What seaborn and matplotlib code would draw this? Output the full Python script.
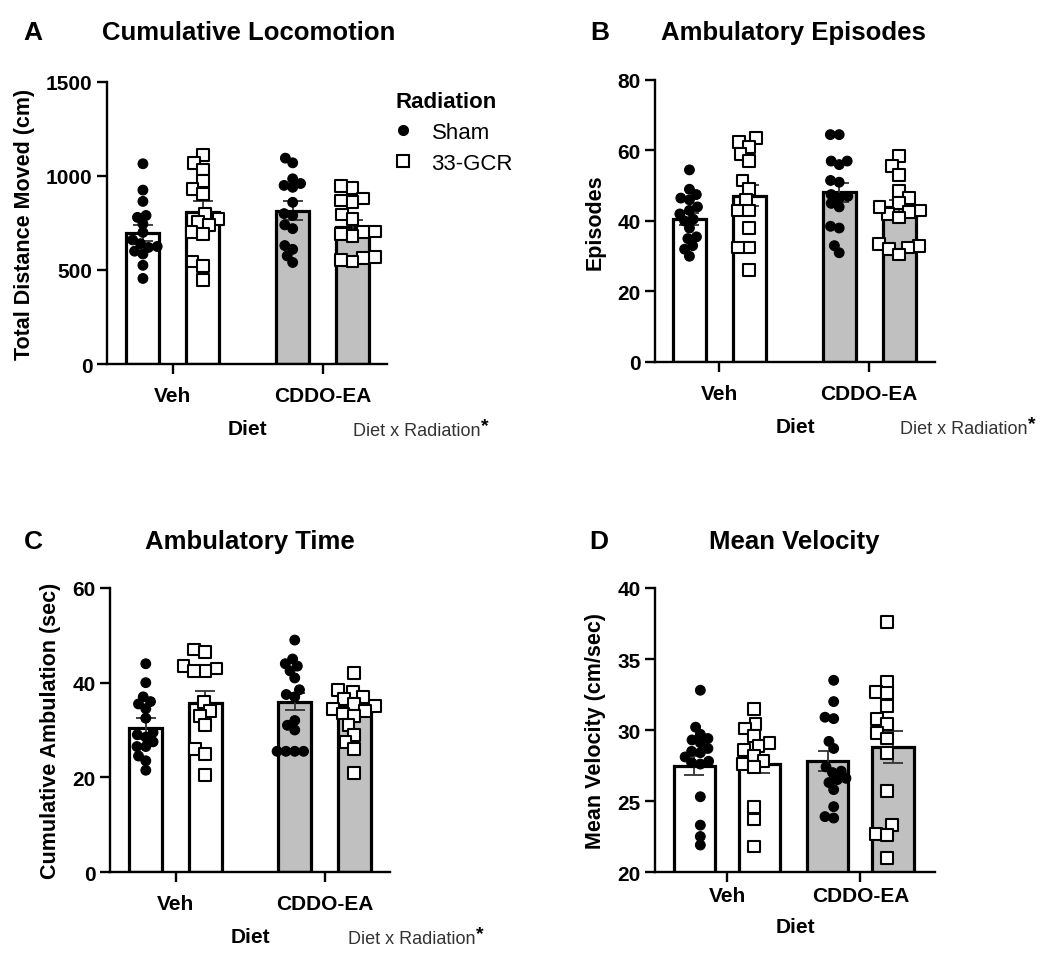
import numpy as np
import pandas as pd
import matplotlib
matplotlib.use("Agg")
import matplotlib.pyplot as plt
import seaborn as sb
from matplotlib.lines import Line2D

diets = ['Veh', 'CDDO-EA']
rads = ['Sham', '33-GCR']

# A - cumulative locomotion (cm)
loco_veh_sham = [1065, 925, 865, 790, 780, 745, 700, 660, 640, 625, 620, 600, 585, 525, 455]
loco_veh_gcr = [1110, 1070, 1035, 975, 930, 905, 800, 770, 755, 740, 700, 690, 545, 520, 445]
loco_cddo_sham = [1095, 1070, 985, 960, 950, 940, 860, 800, 790, 740, 720, 630, 610, 575, 540]
loco_cddo_gcr = [945, 935, 880, 870, 860, 795, 770, 705, 700, 690, 680, 570, 565, 555, 545]
loco_means = [697, 807, 815, 730]
loco_sem = [42, 62, 50, 35]

# B - ambulatory episodes
epi_veh_sham = [54.5, 49, 47.5, 46.5, 46, 44, 43, 40.5, 42, 40, 38, 35.5, 35, 33, 32, 30]
epi_veh_gcr = [63.5, 62.5, 61, 59, 57, 51.5, 49, 46, 43, 43, 38, 32.5, 32.5, 26]
epi_cddo_sham = [64.5, 64.5, 57, 57, 56, 51.5, 51, 47.5, 47, 46.5, 45, 44, 38.5, 38, 33, 31]
epi_cddo_gcr = [58.5, 55.5, 53, 48.5, 46.5, 45, 43, 42.5, 42, 41, 44, 33.5, 33, 32.5, 32, 30.5]
epi_means = [40.6, 47.2, 48.1, 43.9]
epi_sem = [1.8, 3.0, 2.6, 2.0]

# C - ambulatory time (sec)
amb_veh_sham = [44, 40, 37, 36, 35.5, 34.5, 32.5, 29.5, 29, 28.5, 27.5, 26.5, 26.5, 24.5, 23.5, 21.5]
amb_veh_gcr = [47, 46.5, 43.5, 43, 42.5, 42.5, 36, 34, 33, 31, 26, 25, 20.5]
amb_cddo_sham = [49, 45, 44, 43.5, 42.5, 41, 38.5, 37.5, 37, 32, 31, 30, 25.5, 25.5, 25.5, 25.5]
amb_cddo_gcr = [42, 38.5, 38, 37, 36.5, 35.5, 35, 34.5, 34, 33.5, 33, 31, 29, 27.5, 26, 21]
amb_means = [30.4, 35.6, 36.0, 34.8]
amb_sem = [2.2, 2.7, 1.8, 1.5]

# D - mean velocity (cm/sec)
vel_veh_sham = [32.8, 30.2, 29.7, 29.4, 29.3, 29.1, 28.7, 28.5, 28.4, 28.1, 27.8, 27.7, 27.6, 25.3, 23.3, 22.5, 21.9]
vel_veh_gcr = [31.5, 30.4, 30.1, 29.6, 29.1, 28.9, 28.6, 28.2, 27.8, 27.6, 27.4, 24.6, 23.7, 21.8]
vel_cddo_sham = [33.5, 32, 30.9, 30.8, 29.2, 28.7, 27.4, 27.1, 27, 26.6, 26.5, 26.3, 25.8, 24.6, 23.9, 23.8]
vel_cddo_gcr = [37.6, 33.4, 32.7, 32.6, 31.7, 30.8, 30.4, 29.8, 29.4, 28.4, 25.7, 23.3, 22.7, 22.6, 21.0]
vel_means = [27.5, 27.6, 27.8, 28.8]
vel_sem = [0.7, 0.6, 0.7, 1.1]

sb.set_style('ticks')
plt.rcParams['font.family'] = ['Liberation Sans', 'DejaVu Sans']
plt.rcParams['text.color'] = 'black'
plt.rcParams['axes.labelcolor'] = 'black'
plt.rcParams['xtick.color'] = 'black'
plt.rcParams['ytick.color'] = 'black'
plt.rcParams['axes.edgecolor'] = 'black'

keys = [(d, r) for d in diets for r in rads]

# marker sizes (points) shown, and the smaller size used to pack the swarm
marker_size = {'Sham': 7, '33-GCR': 8.5}
pack = 0.75
swarm_colls = []


def points_frame(groups):
    rows = []
    for (diet, rad), vals in zip(keys, groups):
        for v in vals:
            rows.append((diet, rad, v))
    return pd.DataFrame(rows, columns=['Diet', 'Radiation', 'value'])


def panel(ax, groups, means, sems, ylim, yticks, ylabel, xlim, width=0.8, gap=0.45,
          tickpad=9, labelpad=10):
    bars = pd.DataFrame({'Diet': [k[0] for k in keys], 'Radiation': [k[1] for k in keys], 'value': means})
    sb.barplot(data=bars, x='Diet', y='value', hue='Radiation', order=diets, hue_order=rads,
               palette=['white', 'white'], width=width, gap=gap, errorbar=None,
               edgecolor='black', linewidth=2.3, legend=False, ax=ax, zorder=2)
    centers = []
    for p in ax.patches:
        c = p.get_x() + p.get_width() / 2
        centers.append(c)
        if c > 0.5:
            p.set_facecolor('#c0c0c0')
    centers = sorted(centers)
    ax.errorbar(centers, means, yerr=sems, fmt='none', ecolor='#333333', elinewidth=1.3,
                capsize=7, capthick=1.3, zorder=3)

    pts = points_frame(groups)
    styles = {
        'Sham': dict(marker='o', linewidth=0.8, palette={'Sham': 'black', '33-GCR': 'black'}),
        '33-GCR': dict(marker='s', linewidth=1.5, palette={'Sham': 'white', '33-GCR': 'white'}),
    }
    for rad in rads:
        n0 = len(ax.collections)
        sb.swarmplot(data=pts[pts.Radiation == rad], x='Diet', y='value', hue='Radiation',
                     order=diets, hue_order=rads, dodge=True, edgecolor='black',
                     size=marker_size[rad] * pack, legend=False, ax=ax, zorder=4, **styles[rad])
        for coll in ax.collections[n0:]:
            swarm_colls.append((coll, marker_size[rad]))

    ax.set_xlim(xlim)
    ax.set_ylim(ylim)
    ax.set_yticks(yticks)
    sb.despine(ax=ax)
    for s in ['left', 'bottom']:
        ax.spines[s].set_linewidth(1.7)
    ax.tick_params(width=1.7, length=7, labelsize=15)
    ax.tick_params(axis='x', pad=tickpad)
    ax.set_xlabel('Diet', fontsize=15, fontweight='bold', labelpad=labelpad)
    ax.set_ylabel(ylabel, fontsize=15.5, fontweight='bold', labelpad=8)
    for lab in ax.get_xticklabels() + ax.get_yticklabels():
        lab.set_fontweight('bold')


fig = plt.figure(figsize=(10.5, 9.54), dpi=100)
axA = fig.add_axes([0.1019, 0.6174, 0.2667, 0.2956])
axB = fig.add_axes([0.6238, 0.6195, 0.2667, 0.2956])
axC = fig.add_axes([0.1048, 0.0849, 0.2667, 0.2977])
axD = fig.add_axes([0.6238, 0.0849, 0.2667, 0.2977])

panel(axA, [loco_veh_sham, loco_veh_gcr, loco_cddo_sham, loco_cddo_gcr], loco_means, loco_sem,
      (0, 1500), [0, 500, 1000, 1500], 'Total Distance Moved (cm)', (-0.44, 1.43))
panel(axB, [epi_veh_sham, epi_veh_gcr, epi_cddo_sham, epi_cddo_gcr], epi_means, epi_sem,
      (0, 80), [0, 20, 40, 60, 80], 'Episodes', (-0.43, 1.44))
panel(axC, [amb_veh_sham, amb_veh_gcr, amb_cddo_sham, amb_cddo_gcr], amb_means, amb_sem,
      (0, 60), [0, 20, 40, 60], 'Cumulative Ambulation (sec)', (-0.44, 1.44))
panel(axD, [vel_veh_sham, vel_veh_gcr, vel_cddo_sham, vel_cddo_gcr], vel_means, vel_sem,
      (20, 40), [20, 25, 30, 35, 40], 'Mean Velocity (cm/sec)', (-0.54, 1.56), width=0.98, gap=0.37,
      tickpad=3, labelpad=9)

# legend in panel A
handles = [
    Line2D([], [], marker='o', ls='', color='black', markersize=7),
    Line2D([], [], marker='s', ls='', markerfacecolor='white', markeredgecolor='black',
           markeredgewidth=1.5, markersize=8.5),
]
axA.legend(handles, rads, title='Radiation', loc='upper left', bbox_to_anchor=(1.0, 1.0),
           frameon=False, fontsize=16, title_fontproperties={'weight': 'bold', 'size': 16},
           alignment='left', handlelength=0.6, handletextpad=1.0, borderaxespad=0,
           labelspacing=0.45)

# panel letters and titles
for letter, lx, title, tx, y in [('A', 33, 'Cumulative Locomotion', 249, 33),
                                 ('B', 600, 'Ambulatory Episodes', 793, 33),
                                 ('C', 33, 'Ambulatory Time', 250, 542),
                                 ('D', 599, 'Mean Velocity', 794, 542)]:
    fig.text(lx / 1050, 1 - y / 954, letter, fontsize=19, fontweight='bold', ha='center', va='center')
    fig.text(tx / 1050, 1 - y / 954, title, fontsize=18.5, fontweight='bold', ha='center', va='center')

# interaction note
for nx, ny in [(353, 432), (900, 430), (348, 940)]:
    t = fig.text(nx / 1050, 1 - ny / 954, 'Diet x Radiation', fontsize=13, color='#333333',
                 ha='left', va='center')
    axA.annotate('*', xy=(1, 0.8), xycoords=t, ha='left', va='center', fontsize=14,
                 fontweight='bold', color='black', annotation_clip=False)

# pack the swarms with small markers, then freeze positions and show full-size markers
fig.canvas.draw()
for coll, ms in swarm_colls:
    if 'draw' in coll.__dict__:
        del coll.draw
    coll.set_sizes([ms ** 2])

fig.savefig('out.png', dpi=100)
